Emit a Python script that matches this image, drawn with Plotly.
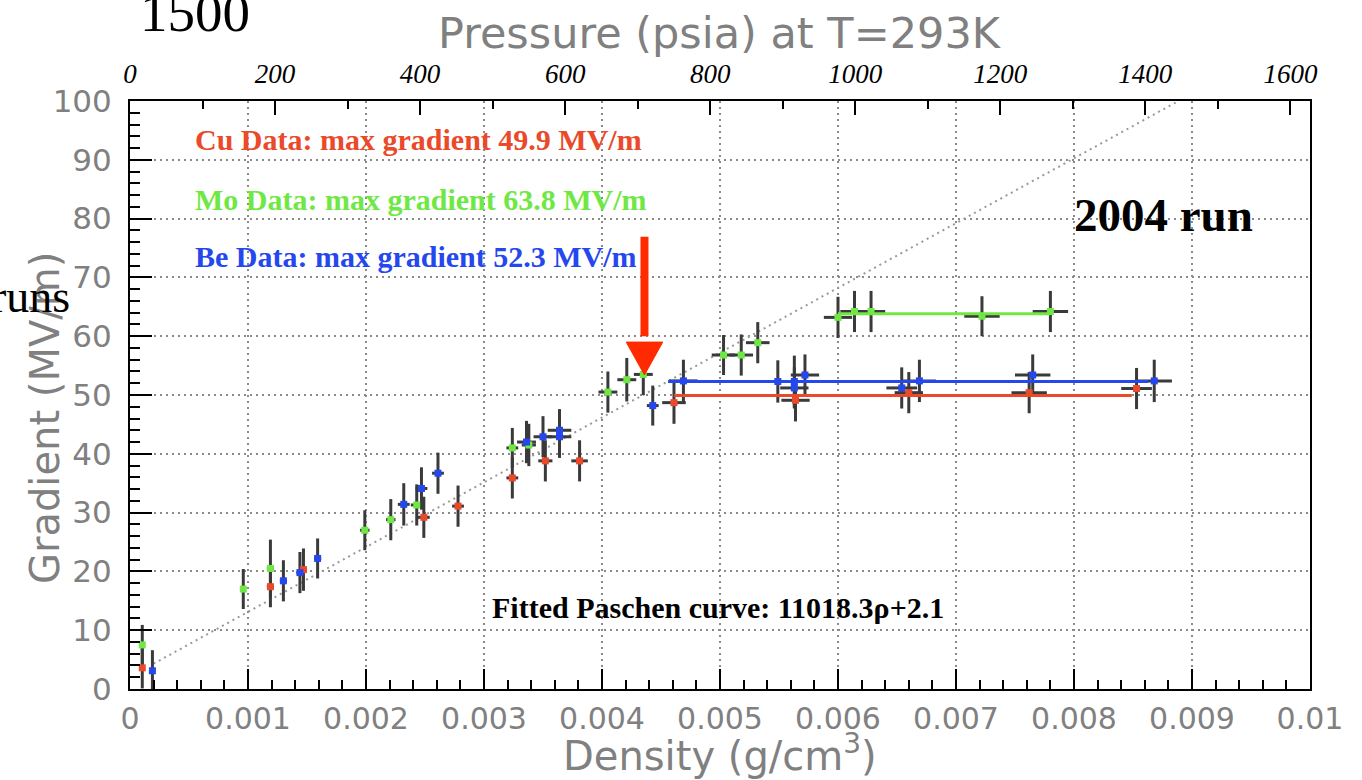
import plotly.graph_objects as go

# ---------------- data ----------------
cu_rho = [0.000104, 0.00119, 0.00147, 0.00249, 0.00278, 0.00324, 0.00352, 0.00381,
          0.00461, 0.00564, 0.0066, 0.00762, 0.00853]
cu_grad = [3.6, 17.4, 20.3, 29.2, 31.1, 35.9, 38.8, 38.8, 48.7, 49.1, 50.4, 50.4, 51.1]
cu_dgrad = [3.5, 3.5, 3.6, 3.5, 3.5, 3.5, 3.5, 3.5, 3.6, 3.6, 3.5, 3.5, 3.5]
cu_drho = [0.00002, 0.00003, 0.00003, 0.00005, 0.00005, 0.00005, 0.00006, 0.00007,
           0.0001, 0.00012, 0.00012, 0.00015, 0.00013]

mo_rho = [0.000104, 0.00096, 0.00119, 0.00199, 0.00221, 0.00243, 0.00324, 0.00338,
          0.00405, 0.00421, 0.00435, 0.00503, 0.00518, 0.00532, 0.0060, 0.00614,
          0.00628, 0.00722, 0.0078]
mo_grad = [7.5, 17.0, 20.5, 27.0, 28.8, 31.3, 41.0, 41.5, 50.5, 52.6, 53.5, 56.8,
           56.8, 58.9, 63.2, 64.2, 64.2, 63.4, 64.2]
mo_dgrad = [3.4, 3.4, 4.9, 3.4, 3.5, 3.5, 3.4, 3.6, 3.5, 3.7, 3.5, 3.4, 3.5, 3.5,
            3.5, 3.5, 3.5, 3.4, 3.5]
mo_drho = [0.00002, 0.00002, 0.00003, 0.00004, 0.00004, 0.00005, 0.00005, 0.00006,
           0.00008, 0.00008, 0.00008, 0.0001, 0.0001, 0.0001, 0.00012, 0.00012,
           0.00012, 0.00015, 0.00015]

be_rho = [0.00019, 0.0013, 0.00144, 0.00159, 0.00232, 0.00247, 0.00261, 0.00336,
          0.0035, 0.00364, 0.00364, 0.00443, 0.00469, 0.00549, 0.00563, 0.00572,
          0.00563, 0.00654, 0.00669, 0.00765, 0.00868]
be_grad = [3.1, 18.4, 19.8, 22.2, 31.4, 34.1, 36.7, 42.0, 42.9, 44.0, 42.9, 48.2,
           52.4, 52.3, 52.3, 53.4, 51.2, 51.2, 52.4, 53.4, 52.4]
be_dgrad = [3.5, 3.5, 3.5, 3.4, 3.6, 3.6, 3.5, 3.6, 3.5, 3.6, 3.6, 3.4, 3.6, 3.6,
            4.4, 3.5, 3.5, 3.5, 3.6, 3.5, 3.6]
be_drho = [0.00002, 0.00003, 0.00003, 0.00003, 0.00005, 0.00005, 0.00005, 0.00008,
           0.00008, 0.0001, 0.0001, 0.00005, 0.00012, 0.00012, 0.00012, 0.00012,
           0.00012, 0.00013, 0.00014, 0.00015, 0.00015]

cu_max, cu_max_x = 49.9, [0.00461, 0.00849]
mo_max, mo_max_x = 63.8, [0.0060, 0.0078]
be_max, be_max_x = 52.3, [0.00456, 0.00863]

fit_slope, fit_intercept = 11018.3, 2.1
fit_x = [0.0002, 0.00889]
fit_y = [fit_slope * v + fit_intercept for v in fit_x]

x_ticks = [0, 0.001, 0.002, 0.003, 0.004, 0.005, 0.006, 0.007, 0.008, 0.009, 0.01]
x_ticktext = ["0", "0.001", "0.002", "0.003", "0.004", "0.005", "0.006", "0.007",
              "0.008", "0.009", "0.01"]
p_ticks = [0, 200, 400, 600, 800, 1000, 1200, 1400, 1600]
y_ticks = [0, 10, 20, 30, 40, 50, 60, 70, 80, 90, 100]

# arrow (annotation) in data coordinates
arrow_x = 0.00436
arrow_top, arrow_base, arrow_tip = 76.9, 59.0, 53.4
arrow_half = 0.000155

# ---------------- style ----------------
RED = "#ea4a2a"
GREEN = "#6fe845"
BLUE = "#2447ee"
ERR = "#3a3a3a"
GRAY_TXT = "#808080"
SANS = "DejaVu Sans"
SERIF = "Liberation Serif"

fig = go.Figure()

# fitted Paschen curve
fig.add_trace(go.Scatter(x=fit_x, y=fit_y, mode="lines",
                         line=dict(color="#999999", width=2, dash="2px,4px"),
                         hoverinfo="skip", showlegend=False))

series = [
    (cu_rho, cu_grad, cu_dgrad, cu_drho, RED),
    (mo_rho, mo_grad, mo_dgrad, mo_drho, GREEN),
    (be_rho, be_grad, be_dgrad, be_drho, BLUE),
]

# error bars
for rho, g, dg, dr, col in series:
    fig.add_trace(go.Scatter(
        x=rho, y=g, mode="markers",
        marker=dict(size=1, color="rgba(0,0,0,0)"),
        error_y=dict(type="data", array=dg, color=ERR, thickness=3, width=0),
        error_x=dict(type="data", array=dr, color=ERR, thickness=3, width=0),
        showlegend=False, hoverinfo="skip"))

# max-gradient lines
for xs, val, col in [(cu_max_x, cu_max, RED), (be_max_x, be_max, BLUE), (mo_max_x, mo_max, GREEN)]:
    fig.add_trace(go.Scatter(x=xs, y=[val, val], mode="lines",
                             line=dict(color=col, width=3),
                             showlegend=False, hoverinfo="skip"))

# markers
for rho, g, dg, dr, col in series:
    fig.add_trace(go.Scatter(x=rho, y=g, mode="markers",
                             marker=dict(symbol="square", size=7, color=col, line=dict(width=0)),
                             showlegend=False))

# trace bound to the top (pressure) axis
fig.add_trace(go.Scatter(x=[0, 1600], y=[-10, -10], xaxis="x2", mode="markers",
                         marker=dict(size=1, color="rgba(0,0,0,0)"),
                         showlegend=False, hoverinfo="skip"))

grid_dash = "2px,4px"
fig.update_layout(
    width=1362, height=780,
    margin=dict(l=130, r=52, t=101, b=91, autoexpand=False),
    paper_bgcolor="white", plot_bgcolor="white",
    xaxis=dict(range=[0, 0.01], tickvals=x_ticks, ticktext=x_ticktext,
               ticks="inside", ticklen=20, tickwidth=2, tickcolor="black",
               showline=True, linecolor="black", linewidth=2, mirror=True,
               showgrid=True, gridcolor="#8a8a8a", gridwidth=2, griddash=grid_dash,
               zeroline=False, tickfont=dict(family=SANS, size=30, color=GRAY_TXT),
               ticklabelstandoff=2,
               minor=dict(dtick=0.0002, tick0=0, ticks="inside", ticklen=9,
                          tickwidth=2, tickcolor="black", showgrid=False)),
    xaxis2=dict(overlaying="x", side="top", anchor="y", range=[0, 1627],
                tickvals=p_ticks, ticks="inside", ticklen=14, tickwidth=2,
                tickcolor="black", showgrid=False, zeroline=False, showline=False,
                tickfont=dict(family=SERIF, size=27, color="black", style="italic"),
                ticklabelstandoff=12,
                minor=dict(dtick=100, tick0=0, ticks="inside", ticklen=8,
                           tickwidth=2, tickcolor="black", showgrid=False)),
    yaxis=dict(range=[0, 100], tickvals=y_ticks, ticks="inside", ticklen=22,
               tickwidth=2, tickcolor="black", showline=True, linecolor="black",
               linewidth=2, mirror=True, showgrid=True, gridcolor="#8a8a8a",
               gridwidth=2, griddash=grid_dash, zeroline=False,
               tickfont=dict(family=SANS, size=31, color=GRAY_TXT),
               ticklabelstandoff=10,
               minor=dict(dtick=2, tick0=0, ticks="inside", ticklen=10,
                          tickwidth=2, tickcolor="black", showgrid=False)),
    showlegend=False,
)

ann = []
# axis titles
ann.append(dict(text="Pressure (psia) at T=293K", xref="paper", yref="paper",
                x=0.5, y=1.1156, xanchor="center", yanchor="middle", showarrow=False,
                font=dict(family=SANS, size=43, color=GRAY_TXT)))
ann.append(dict(text="Density (g/cm<sup>3</sup>)", xref="paper", yref="paper",
                x=0.5, y=-0.108, xanchor="center", yanchor="middle", showarrow=False,
                font=dict(family=SANS, size=40, color=GRAY_TXT)))
ann.append(dict(text="Gradient (MV/m)", xref="paper", yref="paper",
                x=-0.072, y=0.4609, xanchor="center", yanchor="middle", showarrow=False,
                textangle=-90, font=dict(family=SANS, size=40, color=GRAY_TXT)))
# data labels
ann.append(dict(text="<b>Cu Data: max gradient 49.9 MV/m</b>", xref="paper", yref="paper",
                x=0.0534, y=0.9337, xanchor="left", yanchor="middle", showarrow=False,
                font=dict(family=SERIF, size=30, color=RED)))
ann.append(dict(text="<b>Mo Data: max gradient 63.8 MV/m</b>", xref="paper", yref="paper",
                x=0.0534, y=0.8333, xanchor="left", yanchor="middle", showarrow=False,
                font=dict(family=SERIF, size=30, color=GREEN)))
ann.append(dict(text="<b>Be Data: max gradient 52.3 MV/m</b>", xref="paper", yref="paper",
                x=0.0534, y=0.7347, xanchor="left", yanchor="middle", showarrow=False,
                font=dict(family=SERIF, size=30, color=BLUE)))
ann.append(dict(text="<b>Fitted Paschen curve: 11018.3ρ+2.1</b>", xref="paper", yref="paper",
                x=0.3051, y=0.1378, xanchor="left", yanchor="middle", showarrow=False,
                font=dict(family=SERIF, size=30, color="black")))
ann.append(dict(text="<b>2004 run</b>", xref="paper", yref="paper",
                x=0.7983, y=0.8061, xanchor="left", yanchor="middle", showarrow=False,
                font=dict(family=SERIF, size=47, color="black")))
# overlaid slide fragments
ann.append(dict(text="runs", xref="paper", yref="paper",
                x=-0.049, y=0.6667, xanchor="right", yanchor="middle", showarrow=False,
                font=dict(family=SERIF, size=46, color="black")))
ann.append(dict(text="1500", xref="paper", yref="paper",
                x=0.0551, y=1.151, xanchor="center", yanchor="middle", showarrow=False,
                font=dict(family=SERIF, size=55, color="black")))
fig.update_layout(annotations=ann)

# red arrow
fig.add_shape(type="line", xref="x", yref="y", x0=arrow_x, x1=arrow_x,
              y0=arrow_top, y1=arrow_base + 1, line=dict(color="#ff2a00", width=8))
fig.add_shape(type="path", xref="x", yref="y",
              path=(f"M {arrow_x - arrow_half},{arrow_base} L {arrow_x + arrow_half},{arrow_base} "
                    f"L {arrow_x},{arrow_tip} Z"),
              fillcolor="#ff2a00", line=dict(color="#ff2a00", width=1))

fig.write_html("out.html")
